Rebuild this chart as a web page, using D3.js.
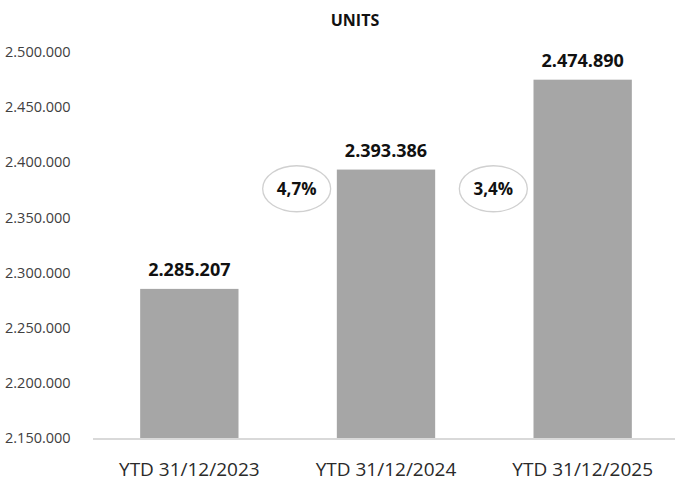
<!DOCTYPE html>
<html>
<head>
<meta charset="utf-8">
<style>
  body { margin: 0; background: #fff; }
  svg text { font-family: "Open Sans", "Noto Sans", sans-serif; }
</style>
</head>
<body>
<svg id="chart" width="675" height="486"></svg>
<script src="https://d3js.org/d3.v7.min.js"></script>
<script>
var categories = ["YTD 31/12/2023", "YTD 31/12/2024", "YTD 31/12/2025"];
var values = [2285207, 2393386, 2474890];
var changes = ["", "4,7%", "3,4%"];
var yTicks = [2150000, 2200000, 2250000, 2300000, 2350000, 2400000, 2450000, 2500000];

var svg = d3.select("#chart"),
    margin = {top: 52, right: 0, bottom: 48, left: 93},
    width = 675 - margin.left - margin.right,
    height = 486 - margin.top - margin.bottom,
    g = svg.append("g").attr("transform", "translate(" + margin.left + "," + margin.top + ")");

var fmt = function(v) { return d3.format(",")(v).replace(/,/g, "."); };

var x = d3.scaleBand()
    .domain(categories)
    .range([-2, 588])
    .paddingInner(0.5)
    .paddingOuter(0.25);

var y = d3.scaleLinear()
    .domain([2150000, 2500000])
    .range([height, 0]);

svg.append("text")
    .attr("x", 355)
    .attr("y", 26)
    .attr("text-anchor", "middle")
    .style("font-size", "16px")
    .style("font-weight", "bold")
    .attr("fill", "#111")
    .text("UNITS");

// y axis labels only
var yAxis = g.append("g")
    .call(d3.axisLeft(y).tickValues(yTicks).tickFormat(fmt).tickSize(0));
yAxis.select(".domain").remove();
yAxis.selectAll(".tick text")
    .attr("text-anchor", "start")
    .attr("x", -88)
    .attr("fill", "#404040")
    .style("font-size", "14.5px");

g.selectAll("rect.bar")
    .data(values)
    .enter().append("rect")
      .attr("class", "bar")
      .attr("x", function(d, i) { return x(categories[i]); })
      .attr("y", function(d) { return y(d); })
      .attr("width", x.bandwidth())
      .attr("height", function(d) { return height - y(d); })
      .attr("fill", "#a6a6a6");

g.selectAll("text.val")
    .data(values)
    .enter().append("text")
      .attr("class", "val")
      .attr("x", function(d, i) { return x(categories[i]) + x.bandwidth() / 2; })
      .attr("y", function(d) { return y(d) - 13; })
      .attr("text-anchor", "middle")
      .style("font-size", "18px")
      .style("font-weight", "bold")
      .attr("fill", "#111")
      .text(fmt);

// x axis
var xAxis = g.append("g")
    .attr("transform", "translate(0," + height + ")")
    .call(d3.axisBottom(x).tickSize(0).tickPadding(25));
xAxis.select(".domain").attr("stroke", "#d9d9d9").attr("stroke-width", 2)
    .attr("d", "M0,1H" + width);
xAxis.selectAll(".tick text")
    .attr("fill", "#2a2a2a")
    .style("font-size", "19px");

// growth bubbles
var bub = g.selectAll("g.bub")
    .data(changes.slice(1))
    .enter().append("g")
      .attr("class", "bub")
      .attr("transform", function(d, i) {
        var cx = x(categories[i + 1]) - x.step() * x.paddingInner() / 2 + 9;
        return "translate(" + cx + "," + y(2376000) + ")";
      });
bub.append("ellipse")
    .attr("rx", 34)
    .attr("ry", 23)
    .attr("fill", "#fff")
    .attr("stroke", "#d0d0d0")
    .attr("stroke-width", 1.3);
bub.append("text")
    .attr("text-anchor", "middle")
    .attr("dy", "0.35em")
    .style("font-size", "17px")
    .style("font-weight", "bold")
    .attr("fill", "#111")
    .text(function(d) { return d; });
</script>
</body>
</html>
